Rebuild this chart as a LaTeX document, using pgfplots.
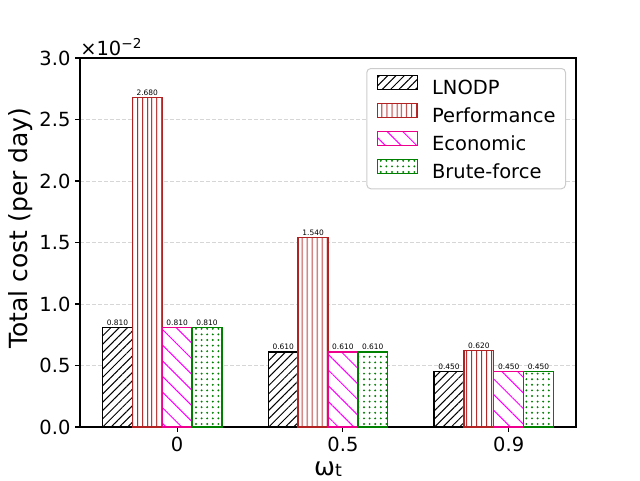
\documentclass[border=0pt]{standalone}
\usepackage{fontspec}
\setmainfont{DejaVu Sans}
\usepackage{pgfplots}
\pgfplotsset{compat=1.18}
\usetikzlibrary{patterns.meta}
\definecolor{perfred}{HTML}{B22222}
\definecolor{gridgray}{HTML}{D6D6D6}
\definecolor{leggray}{HTML}{CCCCCC}
\definecolor{bfgreen}{HTML}{008000}
\newcommand{\ticksz}{\fontsize{14.6}{17}\selectfont}
\newcommand{\labsz}{\fontsize{18.75}{22}\selectfont}
\pgfplotsset{
  mybar/.style={ybar, bar width=0.18, bar shift=0pt, line width=1pt, fill=white,
    legend image code/.code={\draw[##1, sharp corners] (0pt,0pt) rectangle (30pt,10.5pt);}},
  vallab/.style={draw=none, forget plot, nodes near coords, point meta=y,
    nodes near coords style={font=\fontsize{5.6}{6}\selectfont, text=black, anchor=base,
      inner sep=0pt, yshift=1.5pt,
      /pgf/number format/fixed, /pgf/number format/fixed zerofill,
      /pgf/number format/precision=3}},
}
\begin{document}
\begin{tikzpicture}
\useasboundingbox (0,0) rectangle (480pt,360pt);
\begin{axis}[
  at={(60pt,39.75pt)}, anchor=south west,
  scale only axis, width=372pt, height=276.75pt,
  xmin=-0.586, xmax=2.406, ymin=0, ymax=3,
  xtick={0,1,2}, xticklabels={0,0.5,0.9},
  ytick={0,0.5,1,1.5,2,2.5,3},
  tick pos=left, tick align=outside, major tick length=3.65pt,
  every tick/.style={black, line width=0.83pt},
  axis line style={line width=0.83pt},
  ymajorgrids, major grid style={gridgray, dash pattern=on 3pt off 1.5pt, line width=0.6pt},
  /pgf/number format/assume math mode=true,
  ticklabel style={font=\ticksz},
  yticklabel style={/pgf/number format/fixed, /pgf/number format/fixed zerofill, /pgf/number format/precision=1},
  xlabel={ω\raisebox{-1pt}{\fontsize{13}{14}\selectfont t}},
  xlabel style={font=\labsz, at={(axis description cs:0.5,-0.131)}, anchor=base},
  ylabel={Total cost (per day)},
  ylabel style={font=\labsz, at={(axis description cs:-0.1058,0.539)}, anchor=base, rotate=0},
  legend style={at={(1,1)}, anchor=north east, xshift=-7.5pt, yshift=-7.5pt,
    draw=leggray, line width=0.75pt, rounded corners=3pt, fill=white, font=\ticksz,
    inner xsep=7.5pt, inner ysep=4.5pt, row sep=3.4pt, column sep=10.5pt,
    nodes={inner sep=0pt, text height=10.5pt, text depth=3pt}},
  legend cell align=left,
  clip mode=individual,
]
\addplot[mybar, draw=black, postaction={pattern={Lines[angle=45,distance=4.4pt,line width=0.75pt]}, pattern color=black}]
  coordinates {(-0.36,0.81) (0.64,0.61) (1.64,0.45)};
\addlegendentry{LNODP}
\addplot[mybar, draw=perfred, postaction={pattern={Lines[angle=90,distance=4pt,line width=0.75pt]}, pattern color=perfred}]
  coordinates {(-0.18,2.68) (0.82,1.54) (1.82,0.62)};
\addlegendentry{Performance}
\addplot[mybar, draw=magenta, postaction={pattern={Lines[angle=-45,distance=8.3pt,line width=0.75pt]}, pattern color=magenta}]
  coordinates {(0,0.81) (1,0.61) (2,0.45)};
\addlegendentry{Economic}
\addplot[mybar, draw=bfgreen, postaction={pattern={Dots[distance=4.2pt,radius=0.8pt]}, pattern color=bfgreen}]
  coordinates {(0.18,0.81) (1.18,0.61) (2.18,0.45)};
\addlegendentry{Brute-force}
\addplot[vallab] coordinates {(-0.36,0.81) (0.64,0.61) (1.64,0.45)};
\addplot[vallab] coordinates {(-0.18,2.68) (0.82,1.54) (1.82,0.62)};
\addplot[vallab] coordinates {(0,0.81) (1,0.61) (2,0.45)};
\addplot[vallab] coordinates {(0.18,0.81) (1.18,0.61) (2.18,0.45)};
\node[anchor=base west, font=\ticksz, inner sep=0pt] at (axis description cs:0,1.0081) {×10\textsuperscript{−2}};
\end{axis}
\end{tikzpicture}
\end{document}
